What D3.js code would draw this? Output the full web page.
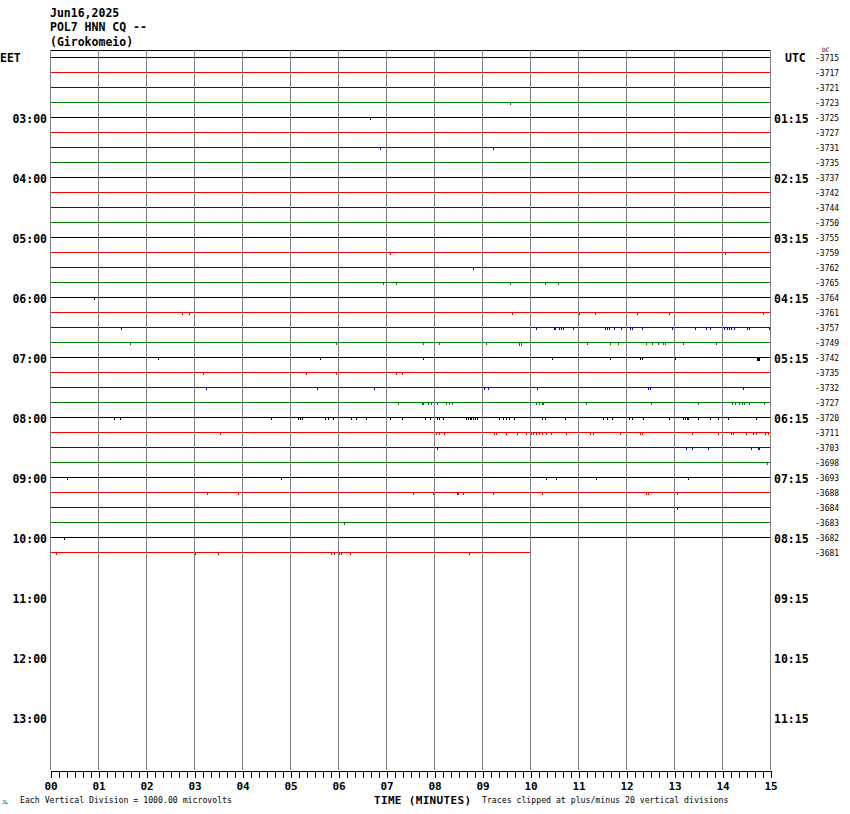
<!DOCTYPE html>
<html><head><meta charset="utf-8">
<script src="https://cdn.jsdelivr.net/npm/d3@7"></script>
<style>html,body{margin:0;padding:0;background:#fff;}svg{display:block;}</style>
</head><body>
<svg id="chart" width="850" height="814"></svg>
<script>
// ---------------- DATA ----------------
const headerLines = ["Jun16,2025", "POL7 HNN CQ --", "(Girokomeio)"];
const minuteLabels = ["00","01","02","03","04","05","06","07","08","09","10","11","12","13","14","15"];
const eetLabels = ["03:00","04:00","05:00","06:00","07:00","08:00","09:00","10:00","11:00","12:00","13:00"];
const utcLabels = ["01:15","02:15","03:15","04:15","05:15","06:15","07:15","08:15","09:15","10:15","11:15"];
const dcOffsets = [-3715,-3717,-3721,-3723,-3725,-3727,-3731,-3735,-3737,-3742,-3744,-3750,-3755,-3759,-3762,-3765,-3764,-3761,-3757,-3749,-3742,-3735,-3732,-3727,-3720,-3711,-3703,-3698,-3693,-3688,-3684,-3683,-3682,-3681];
const traceColors = ["#000000","#ff0000","#0000ff","#008000"];
const traceEndMinute = [15,15,15,15,15,15,15,15,15,15,15,15,15,15,15,15,15,15,15,15,15,15,15,15,15,15,15,15,15,15,15,15,15,10];
// spikes per trace: [minute, microvolts]
const traceSpikes = [
 [],[],[],
 [[9.58,-150]],
 [[6.67,-150]],
 [],
 [[6.875,-150],[9.23,-150]],
 [],[],[],[],[],[],
 [[7.08,-150],[14.06,-150]],
 [[8.81,-150]],
 [[6.94,-150],[7.2,-150],[9.58,-150],[10.31,-150],[10.58,-150]],
 [[0.91,-150]],
 [[2.76,-150],[2.90,-150],[9.62,-150],[11.03,-150],[11.36,-150],[12.22,-150],[12.89,-150],[14.86,-150]],
 [[1.48,-150],[10.12,-150],[10.5,-150],[10.53,-150],[10.6,-150],[10.64,-150],[10.68,-150],[10.89,-150],[11.56,-150],[11.6,-150],[11.65,-150],[11.74,-150],[11.9,-150],[12.08,-150],[12.13,-150],[12.34,-150],[12.95,-150],[12.99,-150],[13.43,-150],[13.67,-150],[13.74,-150],[14.04,-150],[14.1,-150],[14.14,-150],[14.19,-150],[14.26,-150],[14.52,-150],[14.56,-150],[14.97,-150]],
 [[1.66,-150],[5.95,-150],[7.77,-150],[8.11,-150],[9.09,-150],[9.78,-200],[9.81,-200],[11.18,-150],[11.67,-150],[11.84,-150],[12.41,-150],[12.54,-150],[12.66,-150],[12.78,-150],[12.82,-150],[13.19,-150],[13.87,-150]],
 [[2.25,-150],[5.62,-150],[7.77,-150],[10.45,-150],[11.66,-150],[12.3,-150],[12.33,-150],[13.02,-150],[14.72,-200],[14.75,-200],[14.77,-200]],
 [[3.19,-150],[5.34,-150],[5.95,-150],[7.2,-150],[7.34,-150]],
 [[3.26,-150],[5.57,-150],[6.75,-150],[9.04,-150],[9.12,-150],[10.15,-150],[12.45,-150],[12.49,-150],[14.44,-150]],
 [[7.24,-150],[7.74,-150],[7.77,-150],[7.87,-150],[7.94,-150],[8.06,-150],[8.25,-150],[8.31,-150],[8.38,-150],[10.12,-150],[10.18,-150],[10.24,-150],[10.28,-150],[11.16,-150],[12.52,-150],[13.49,-150],[14.21,-150],[14.28,-150],[14.35,-150],[14.42,-150],[14.45,-150],[14.57,-150],[14.87,-150]],
 [[1.34,-150],[1.46,-150],[4.6,-150],[5.17,-150],[5.2,-150],[5.24,-150],[5.72,-150],[5.79,-150],[5.89,-150],[6.28,-150],[6.38,-150],[6.58,-150],[7.08,-150],[7.33,-150],[7.81,-150],[7.92,-150],[8.06,-150],[8.11,-150],[8.18,-150],[8.66,-150],[8.7,-150],[8.74,-150],[8.78,-150],[8.82,-150],[8.86,-150],[8.9,-150],[9.36,-150],[9.44,-150],[9.5,-150],[9.57,-150],[9.67,-150],[10.26,-150],[10.32,-150],[10.72,-150],[11.53,-150],[11.61,-150],[11.7,-150],[12.06,-150],[12.13,-150],[12.36,-150],[12.89,-150],[13.19,-150],[13.23,-150],[13.27,-150],[13.3,-150],[13.49,-150],[13.75,-150],[13.92,-150],[13.99,-150],[14.13,-150],[14.7,-150]],
 [[3.54,-150],[8.04,-150],[8.1,-150],[8.21,-150],[9.24,-150],[9.3,-150],[9.51,-150],[9.72,-150],[9.91,-150],[10.02,-150],[10.07,-150],[10.12,-150],[10.18,-150],[10.24,-150],[10.33,-150],[10.43,-150],[10.75,-150],[11.25,-150],[11.32,-150],[11.87,-150],[12.3,-150],[12.34,-150],[13.37,-150],[13.92,-150],[14.19,-150],[14.23,-150],[14.5,-150],[14.64,-150],[14.71,-150],[14.9,-150],[14.96,-150]],
 [[8.07,-150],[11.99,-150],[13.25,-150],[13.37,-150],[13.7,-150],[14.61,-150],[14.76,-150],[14.78,-150]],
 [[14.93,-150]],
 [[0.36,-150],[4.81,-150],[10.33,-150],[10.54,-150],[11.38,-150],[13.3,-150]],
 [[3.27,-150],[3.92,-150],[7.56,-150],[7.97,-150],[8.47,-150],[8.51,-150],[8.61,-150],[9.22,-150],[10.26,-150],[12.42,-150],[12.46,-150],[13.07,-150]],
 [[13.07,-150]],
 [[6.12,-150]],
 [[0.29,-150]],
 [[0.13,-150],[3.02,-150],[3.49,-150],[5.86,-150],[5.91,-150],[6.03,-150],[6.06,-150],[6.24,-150],[8.72,-150]]
];
const scaleNote = "Each Vertical Division = 1000.00 microvolts";
const clipNote = "Traces clipped at plus/minus 20 vertical divisions";
const axisTitle = "TIME (MINUTES)";
const rowsTotal = 48;      // 15-minute rows on the page
const rowsPerLabel = 4;    // hour labels every 4 rows
const firstLabelRow = 4;
const uvPerDivision = 1000;

// ---------------- DRAW ----------------
const svg = d3.select("#chart");
const pLeft = 50, pRight = 770, pTop = 50, pBottom = 770;
const mono = "'DejaVu Sans Mono', 'Liberation Mono', monospace";

const x = d3.scaleLinear().domain([0, 15]).range([pLeft, pRight]);
const row = d3.scaleLinear().domain([0, rowsTotal]).range([pTop, pBottom]);
const rowH = row(1) - row(0);
const rowY = i => Math.round(row(i) + 7) + 0.5;
const amp = d3.scaleLinear().domain([0, uvPerDivision]).range([0, -rowH]);
const px = v => Math.round(x(v)) + 0.5;

svg.append("rect").attr("width", 850).attr("height", 814).attr("fill", "#fff");

// header
svg.append("g").selectAll("text").data(headerLines).join("text")
  .attr("x", 50).attr("y", (d, i) => 16.5 + i * 14.5)
  .attr("font-family", mono).attr("font-weight", "bold").attr("font-size", 11.5)
  .attr("fill", "#000").text(d => d);

// top frame line
svg.append("line").attr("x1", pLeft).attr("x2", pRight).attr("y1", pTop + 0.5).attr("y2", pTop + 0.5)
  .attr("stroke", "#000").attr("stroke-width", 1).attr("shape-rendering", "crispEdges");

// traces
const line = d3.line().x(d => px(d[0])).y(d => d[2] + amp(d[1]));
const traces = svg.append("g");
traceSpikes.forEach((spikes, i) => {
  const y0 = rowY(i);
  const pts = [[0, 0, y0]];
  spikes.slice().sort((a, b) => a[0] - b[0]).forEach(s => {
    pts.push([s[0], 0, y0], [s[0], s[1], y0], [s[0], 0, y0]);
  });
  pts.push([traceEndMinute[i], 0, y0]);
  traces.append("path").attr("d", line(pts)).attr("fill", "none")
    .attr("stroke", traceColors[i % 4]).attr("stroke-width", 1)
    .attr("shape-rendering", "crispEdges");
});

// vertical grid
svg.append("g").selectAll("line").data(d3.range(0, 16)).join("line")
  .attr("x1", d => px(d)).attr("x2", d => px(d))
  .attr("y1", pTop).attr("y2", pBottom)
  .attr("stroke", "#808080").attr("stroke-width", 1).attr("shape-rendering", "crispEdges");

// bottom axis with 10 s ticks
const axis = d3.axisBottom(x).tickValues(d3.range(0, 91).map(k => k / 6))
  .tickSize(7).tickSizeOuter(0).tickFormat("");
const ax = svg.append("g").attr("transform", `translate(0.5,${pBottom + 0.5})`).call(axis);
ax.select(".domain").attr("stroke", "#000").attr("shape-rendering", "crispEdges");
ax.selectAll(".tick line").attr("stroke", "#000").attr("shape-rendering", "crispEdges");

svg.append("g").selectAll("text").data(minuteLabels).join("text")
  .attr("x", (d, i) => x(i) + 1).attr("y", 790)
  .attr("text-anchor", "middle").attr("font-family", mono).attr("font-weight", "bold")
  .attr("font-size", 11).attr("fill", "#000").text(d => d);

svg.append("text").attr("x", 374).attr("y", 803.5).attr("font-family", mono)
  .attr("font-weight", "bold").attr("font-size", 11).attr("textLength", 97).text(axisTitle);
svg.append("text").attr("x", 20).attr("y", 803).attr("font-family", mono)
  .attr("font-size", 8.2).text(scaleNote);
svg.append("text").attr("x", 482).attr("y", 803).attr("font-family", mono)
  .attr("font-size", 8.2).text(clipNote);
svg.append("text").attr("x", 2).attr("y", 804).attr("font-family", mono)
  .attr("font-size", 5).text("JL");

// EET / UTC
svg.append("text").attr("x", 0).attr("y", rowY(0)).attr("dy", "0.35em")
  .attr("font-family", mono).attr("font-weight", "bold").attr("font-size", 11.5).text("EET");
svg.append("text").attr("x", 785).attr("y", rowY(0)).attr("dy", "0.35em")
  .attr("font-family", mono).attr("font-weight", "bold").attr("font-size", 11.5).text("UTC");

// hour labels
svg.append("g").selectAll("text").data(eetLabels).join("text")
  .attr("x", 47).attr("y", (d, i) => rowY(firstLabelRow + i * rowsPerLabel) + 1).attr("dy", "0.38em")
  .attr("text-anchor", "end").attr("font-family", mono).attr("font-weight", "bold")
  .attr("font-size", 11.5).text(d => d);
svg.append("g").selectAll("text").data(utcLabels).join("text")
  .attr("x", 774).attr("y", (d, i) => rowY(firstLabelRow + i * rowsPerLabel) + 1).attr("dy", "0.38em")
  .attr("font-family", mono).attr("font-weight", "bold")
  .attr("font-size", 11.5).text(d => d);

// DC offsets
svg.append("text").attr("x", 822).attr("y", 52).attr("font-family", mono)
  .attr("font-size", 6).text("DC");
svg.append("g").selectAll("text").data(dcOffsets).join("text")
  .attr("x", 815).attr("y", (d, i) => rowY(i) + 1).attr("dy", "0.35em")
  .attr("font-family", mono).attr("font-size", 8).text(d => d);
</script>
</body></html>
